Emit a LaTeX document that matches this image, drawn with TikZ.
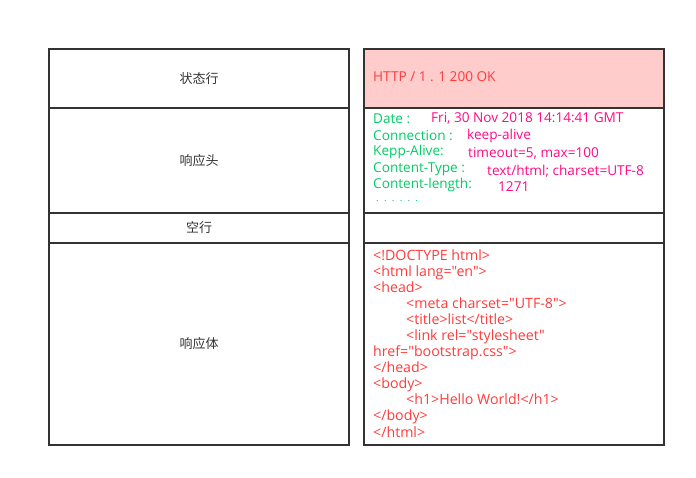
\documentclass[tikz,border=0pt]{standalone}
\usepackage{fontspec}
\setmainfont{Open Sans}[Ligatures=TeXOff]
\newfontfamily\cjk{Noto Sans CJK SC}
\definecolor{edgegray}{HTML}{333333}
\definecolor{statusred}{HTML}{FF3B3B}
\definecolor{statusfill}{HTML}{FFCCCC}
\definecolor{keygreen}{HTML}{00CC66}
\definecolor{valpink}{HTML}{FF0A84}
\tikzset{
  cell/.style={draw=edgegray, line width=2pt, minimum width=300pt, inner sep=0pt, anchor=north west},
  zhlabel/.style={font=\cjk\fontsize{13}{15}\selectfont, text=edgegray},
  hkey/.style={anchor=west, inner sep=0pt, font=\fontsize{13.6}{16}\selectfont, text=keygreen},
  hval/.style={anchor=west, inner sep=0pt, font=\fontsize{13.6}{16}\selectfont, text=valpink}
}
\newcommand{\ind}{\hspace*{33pt}}
\begin{document}
\begin{tikzpicture}[x=1pt,y=-1pt]
\useasboundingbox (0,0) rectangle (696,477);
% left column
\node [cell, minimum height=59pt] (statusL) at (48,48) {};
\node [cell, minimum height=105pt] (headL) at (48,107) {};
\node [cell, minimum height=30pt] (blankL) at (48,212) {};
\node [cell, minimum height=202pt] (bodyL) at (48,242) {};
\node [zhlabel] (statustxt) at (statusL.center) {状态行};
\node [zhlabel] (headtxt) at (headL.center) {响应头};
\node [zhlabel] (blanktxt) at (blankL.center) {空行};
\node [zhlabel] (bodytxt) at (bodyL.center) {响应体};
% right column
\node [cell, fill=statusfill, minimum height=59pt] (statusR) at (363,48) {};
\node [cell, minimum height=105pt] (headR) at (363,107) {};
\node [cell, minimum height=30pt] (blankR) at (363,212) {};
\node [cell, minimum height=202pt] (bodyR) at (363,242) {};
\node [hkey, text=statusred] (line) at (373,77) {HTTP / 1 . 1 200 OK};
% header fields
\node [hkey] (kdate) at (373,119) {Date :};
\node [hval] (vdate) at (431,118) {Fri, 30 Nov 2018 14:14:41 GMT};
\node [hkey] (kconn) at (373,136) {Connection :};
\node [hval] (vconn) at (467,136) {keep-alive};
\node [hkey] (kalive) at (373,152) {Kepp-Alive:};
\node [hval] (valive) at (468,153) {timeout=5, max=100};
\node [hkey] (ktype) at (373,169) {Content-Type :};
\node [hval] (vtype) at (487,171) {text/html; charset=UTF-8};
\node [hkey] (klen) at (373,185) {Content-length:};
\node [hval] (vlen) at (498,187) {1271};
\node [hkey, font=\fontsize{10}{10}\selectfont] (kmore) at (376,201) {.\ \ .\ \ .\ \ .\ \ .\ \ .};
% body
\node [anchor=north west, inner sep=0pt, align=left, text=statusred,
  font=\fontsize{14.2}{16.05}\selectfont] (html) at (373,249.5) {%
  <!DOCTYPE html>\\
  <html lang="en">\\
  <head>\\
  \ind<meta charset="UTF-8">\\
  \ind<title>list</title>\\
  \ind<link rel="stylesheet"\\
  href="bootstrap.css">\\
  </head>\\
  <body>\\
  \ind<h1>Hello World!</h1>\\
  </body>\\
  </html>};
\end{tikzpicture}
\end{document}
